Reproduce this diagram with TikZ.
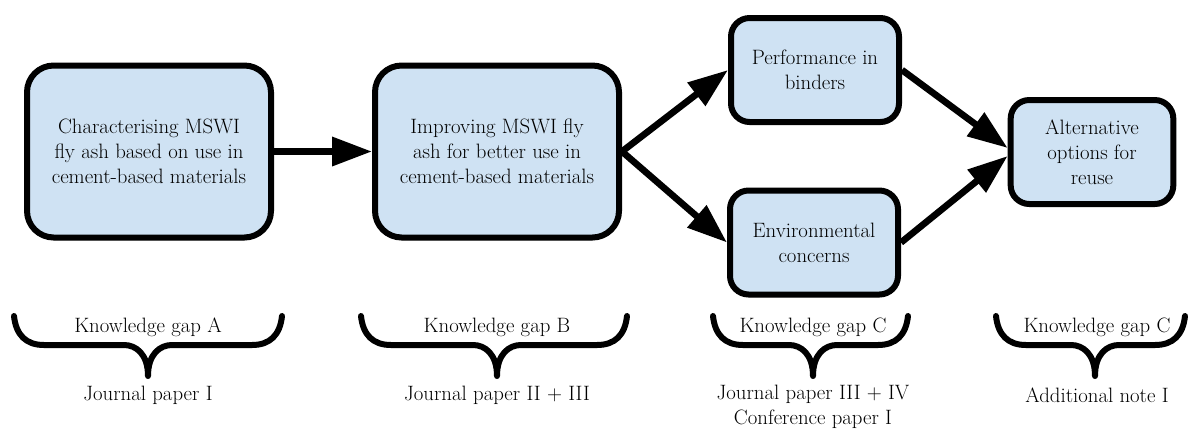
\documentclass[tikz,border=0pt]{standalone}
\usetikzlibrary{arrows.meta,positioning,shadows}
\definecolor{boxfill}{HTML}{CFE2F3}

\begin{document}
\begin{tikzpicture}[
  x=0.75pt, y=-0.75pt,
  >={Triangle[length=30pt,width=21pt]},
  stage/.style={draw=black, line width=4.5pt, fill=boxfill, rounded corners=#1, align=center,
    font=\fontsize{15.6}{18.75}\selectfont,
    drop shadow={shadow xshift=0.6pt, shadow yshift=-2.2pt, opacity=0.3}},
  big/.style={stage=20pt, minimum width=183pt, minimum height=129pt},
  small/.style={stage=14pt, minimum width=126pt, minimum height=78pt},
  arr/.style={->, line width=5pt},
  gap/.style={line width=4.5pt, line cap=round, line join=round},
  lbl/.style={align=center, font=\fontsize{15.6}{18.75}\selectfont, inner sep=0pt},
]
\useasboundingbox (0,0) rectangle (1190,430);

% research stages
\node[big] (charac) at (149,151.5) {Characterising MSWI\\fly ash based on use in\\cement-based materials};
\node[big] (improve) at (497,151.5) {Improving MSWI fly\\ash for better use in\\cement-based materials};
\node[small] (perf) at (815,70) {Performance in\\binders};
\node[small] (env) at (814,242.5) {Environmental\\concerns};
\node[small, minimum width=122pt] (alt) at (1092,152) {Alternative\\options for\\reuse};

\draw[arr] (charac.east) -- (improve.west);
\draw[arr] (improve.east) -- (perf.west);
\draw[arr] (improve.east) -- (env.west);
\draw[arr] (perf.east) -- ([yshift=3pt]alt.west);
\draw[arr] (env.east) -- ([yshift=-3pt]alt.west);

% braces
\foreach \l/\m/\r in {14/148/282, 361/497/627, 713/813/908, 996/1095/1185}
  \draw[gap] (\l,316) .. controls (\l+2,335) and (\l+12,345) .. (\l+30,345)
    -- (\m-24,345) .. controls (\m-12,345) and (\m,354) .. (\m,376)
    .. controls (\m,354) and (\m+12,345) .. (\m+24,345)
    -- (\r-30,345) .. controls (\r-12,345) and (\r-2,335) .. (\r,316);

% knowledge gaps and papers
\node[lbl] (gapA) at (148,327) {Knowledge gap A};
\node[lbl] (gapB) at (497,327) {Knowledge gap B};
\node[lbl] (gapC) at (813,327) {Knowledge gap C};
\node[lbl] (gapD) at (1097,327) {Knowledge gap C};
\node[lbl] (paperA) at (148,395) {Journal paper I};
\node[lbl] (paperB) at (497,395) {Journal paper II + III};
\node[lbl] (paperC) at (813,407) {Journal paper III + IV\\Conference paper I};
\node[lbl] (paperD) at (1097,395) {Additional note I};

\end{tikzpicture}
\end{document}
